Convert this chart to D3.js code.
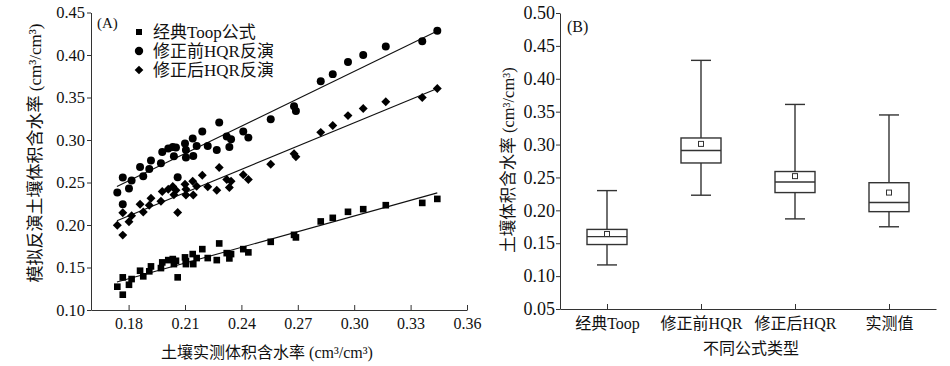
<!DOCTYPE html>
<html>
<head>
<meta charset="utf-8">
<script src="https://cdn.jsdelivr.net/npm/d3@7"></script>
<style>
  html, body { margin: 0; padding: 0; background: #fff; }
  svg { display: block; }
  text { font-family: "Liberation Serif", "Times New Roman", "Noto Sans CJK SC", serif; fill: #111; }
  .axis path, .axis line { stroke: #333; stroke-width: 1; }
  .axis text { font-family: "Liberation Serif", "Times New Roman", "Noto Sans CJK SC", serif; fill: #111; }
</style>
</head>
<body>
<div id="chart"></div>
<script>
// Panel A: measured soil water content (shared x) and three simulated series
const measuredX = [0.1740, 0.1769, 0.1769, 0.1802, 0.1816, 0.1861, 0.1878, 0.1910, 0.1919, 0.1972,
  0.1979, 0.2011, 0.2035, 0.2052, 0.2041, 0.2061, 0.2100, 0.2105, 0.2105, 0.2141,
  0.2144, 0.2162, 0.2192, 0.2221, 0.2269, 0.2282, 0.2322, 0.2345, 0.2336, 0.2410,
  0.2437, 0.2556, 0.2680, 0.2690, 0.2822, 0.2886, 0.2967, 0.3048, 0.3168, 0.3362, 0.3442];

const toopY = [0.1274, 0.1180, 0.1384, 0.1297, 0.1364, 0.1462, 0.1396, 0.1455, 0.1513, 0.1493,
  0.1560, 0.1587, 0.1599, 0.1579, 0.1540, 0.1384, 0.1619, 0.1540, 0.1575, 0.1658,
  0.1540, 0.1611, 0.1716, 0.1611, 0.1587, 0.1783, 0.1669, 0.1658, 0.1607, 0.1716,
  0.1678, 0.1802, 0.1884, 0.1854, 0.2042, 0.2084, 0.2155, 0.2186, 0.2233, 0.2260, 0.2307];

const hqrBeforeY = [0.2382, 0.2245, 0.2559, 0.2429, 0.2523, 0.2682, 0.2574, 0.2660, 0.2758, 0.2727,
  0.2859, 0.2899, 0.2918, 0.2911, 0.2809, 0.2562, 0.2958, 0.2883, 0.2793, 0.3017,
  0.2812, 0.2930, 0.3099, 0.2930, 0.2883, 0.3205, 0.3040, 0.3008, 0.2918, 0.3099,
  0.3028, 0.3243, 0.3396, 0.3341, 0.3690, 0.3775, 0.3917, 0.3999, 0.4100, 0.4163, 0.4285];

const hqrAfterY = [0.1998, 0.1881, 0.2143, 0.2039, 0.2108, 0.2245, 0.2153, 0.2233, 0.2315, 0.2280,
  0.2395, 0.2421, 0.2453, 0.2409, 0.2357, 0.2148, 0.2480, 0.2353, 0.2421, 0.2515,
  0.2354, 0.2456, 0.2586, 0.2450, 0.2409, 0.2676, 0.2535, 0.2515, 0.2441, 0.2591,
  0.2535, 0.2715, 0.2838, 0.2803, 0.3090, 0.3170, 0.3287, 0.3370, 0.3450, 0.3500, 0.3607];

const seriesNames = ['经典Toop公式', '修正前HQR反演', '修正后HQR反演'];

// linear fits
const fitSlope = [0.615, 1.073, 0.913];
const fitIntercept = [0.0261, 0.0588, 0.0463];
const fitRange = [0.1738, 0.3442];

const xTicksA = [0.18, 0.21, 0.24, 0.27, 0.30, 0.33, 0.36];
const yTicksA = [0.10, 0.15, 0.20, 0.25, 0.30, 0.35, 0.40, 0.45];

// Panel B: box plot statistics
const categories = ['经典Toop', '修正前HQR', '修正后HQR', '实测值'];
const whiskerLow = [0.117, 0.223, 0.187, 0.175];
const q1 = [0.148, 0.272, 0.227, 0.198];
const median = [0.160, 0.291, 0.243, 0.212];
const q3 = [0.171, 0.310, 0.259, 0.242];
const whiskerHigh = [0.230, 0.428, 0.361, 0.345];
const meanVal = [0.164, 0.301, 0.252, 0.227];

const yTicksB = [0.05, 0.10, 0.15, 0.20, 0.25, 0.30, 0.35, 0.40, 0.45, 0.50];

const W = 950, H = 366;

const svg = d3.select('#chart').append('svg')
  .attr('width', W)
  .attr('height', H);

svg.append('rect').attr('width', W).attr('height', H).attr('fill', '#fff');

const fmt2 = d3.format('.2f');

/**
 * Panel A - scatter with fit lines
 */
function drawPanelA() {
  const x = d3.scaleLinear().domain([0.16, 0.36]).range([91, 467]);
  const y = d3.scaleLinear().domain([0.10, 0.45]).range([310, 12.5]);

  svg.append('g')
    .attr('class', 'axis')
    .attr('transform', `translate(0,${y(0.10)})`)
    .call(d3.axisBottom(x).tickValues(xTicksA).tickFormat(fmt2)
      .tickSizeInner(-5).tickSizeOuter(0).tickPadding(8))
    .selectAll('text').style('font-size', '16px');

  svg.append('g')
    .attr('class', 'axis')
    .attr('transform', `translate(${x(0.16)},0)`)
    .call(d3.axisLeft(y).tickValues(yTicksA).tickFormat(fmt2)
      .tickSizeInner(4).tickSizeOuter(0).tickPadding(2))
    .selectAll('text').style('font-size', '16.5px');

  const symbols = [
    d3.symbol().type(d3.symbolSquare).size(44),
    d3.symbol().type(d3.symbolCircle).size(50),
    d3.symbol().type(d3.symbolSquare).size(40)
  ];
  const rotate = [0, 0, 45];
  const seriesY = [toopY, hqrBeforeY, hqrAfterY];

  // fit lines
  const line = d3.line().x(d => x(d[0])).y(d => y(d[1]));
  seriesY.forEach((ys, i) => {
    const pts = fitRange.map(v => [v, fitIntercept[i] + fitSlope[i] * v]);
    svg.append('path')
      .attr('d', line(pts))
      .attr('fill', 'none')
      .attr('stroke', '#111')
      .attr('stroke-width', 1.1);
  });

  // points
  seriesY.forEach((ys, i) => {
    svg.append('g').selectAll('path')
      .data(measuredX.map((v, k) => [v, ys[k]]))
      .join('path')
      .attr('d', symbols[i])
      .attr('transform', d => `translate(${x(d[0])},${y(d[1])}) rotate(${rotate[i]})`)
      .attr('fill', '#000');
  });

  svg.append('text')
    .attr('x', 97).attr('y', 23)
    .attr('dy', '0.35em')
    .style('font-size', '15px')
    .text('(A)');

  // legend
  const legend = svg.append('g');
  const legendSymbols = [
    d3.symbol().type(d3.symbolSquare).size(36),
    d3.symbol().type(d3.symbolCircle).size(55),
    d3.symbol().type(d3.symbolSquare).size(38)
  ];
  seriesNames.forEach((name, i) => {
    const ly = 32 + i * 19;
    legend.append('path')
      .attr('d', legendSymbols[i])
      .attr('transform', `translate(139,${ly}) rotate(${rotate[i]})`)
      .attr('fill', '#000');
    legend.append('text')
      .attr('x', 153).attr('y', ly)
      .attr('dy', '0.35em')
      .style('font-size', '17px')
      .text(name);
  });

  svg.append('text')
    .attr('x', 267).attr('y', 352)
    .attr('text-anchor', 'middle')
    .attr('dy', '0.35em')
    .style('font-size', '16px')
    .text('土壤实测体积含水率 (cm³/cm³)');

  svg.append('text')
    .attr('transform', 'translate(35,153) rotate(-90)')
    .attr('text-anchor', 'middle')
    .attr('dy', '0.35em')
    .style('font-size', '17px')
    .text('模拟反演土壤体积含水率 (cm³/cm³)');
}

/**
 * Panel B - box plots
 */
function drawPanelB() {
  const x = d3.scalePoint().domain(categories).range([560, 936]).padding(0.5);
  const y = d3.scaleLinear().domain([0.05, 0.50]).range([309, 13]);
  const boxW = 40, capW = 20;

  svg.append('g')
    .attr('class', 'axis')
    .attr('transform', `translate(0,${y(0.05)})`)
    .call(d3.axisBottom(x).tickSizeInner(-5).tickSizeOuter(0).tickPadding(9))
    .selectAll('text')
    .style('font-size', '16px');

  svg.append('g')
    .attr('class', 'axis')
    .attr('transform', 'translate(560,0)')
    .call(d3.axisLeft(y).tickValues(yTicksB).tickFormat(fmt2)
      .tickSizeInner(4).tickSizeOuter(0).tickPadding(1))
    .selectAll('text').style('font-size', '18px');

  const boxes = svg.append('g')
    .selectAll('g')
    .data(categories.map((c, i) => ({
      c, lo: whiskerLow[i], q1: q1[i], med: median[i], q3: q3[i], hi: whiskerHigh[i], mean: meanVal[i]
    })))
    .join('g')
    .attr('transform', d => `translate(${x(d.c)},0)`)
    .attr('stroke', '#333')
    .attr('stroke-width', 1.4)
    .attr('fill', 'none');

  boxes.append('line')
    .attr('y1', d => y(d.hi)).attr('y2', d => y(d.q3));
  boxes.append('line')
    .attr('y1', d => y(d.q1)).attr('y2', d => y(d.lo));
  boxes.append('line')
    .attr('x1', -capW / 2).attr('x2', capW / 2)
    .attr('y1', d => y(d.hi)).attr('y2', d => y(d.hi));
  boxes.append('line')
    .attr('x1', -capW / 2).attr('x2', capW / 2)
    .attr('y1', d => y(d.lo)).attr('y2', d => y(d.lo));
  boxes.append('rect')
    .attr('x', -boxW / 2).attr('width', boxW)
    .attr('y', d => y(d.q3))
    .attr('height', d => y(d.q1) - y(d.q3))
    .attr('fill', '#fff');
  boxes.append('line')
    .attr('x1', -boxW / 2).attr('x2', boxW / 2)
    .attr('y1', d => y(d.med)).attr('y2', d => y(d.med));
  boxes.append('rect')
    .attr('x', -2.5).attr('width', 5)
    .attr('y', d => y(d.mean) - 2.5).attr('height', 5)
    .attr('stroke-width', 1);

  svg.append('text')
    .attr('x', 567).attr('y', 26)
    .attr('dy', '0.35em')
    .style('font-size', '16px')
    .text('(B)');

  svg.append('text')
    .attr('x', 751).attr('y', 348)
    .attr('text-anchor', 'middle')
    .attr('dy', '0.35em')
    .style('font-size', '16px')
    .text('不同公式类型');

  svg.append('text')
    .attr('transform', 'translate(508,160) rotate(-90)')
    .attr('text-anchor', 'middle')
    .attr('dy', '0.35em')
    .style('font-size', '16.5px')
    .text('土壤体积含水率 (cm³/cm³)');
}

drawPanelA();
drawPanelB();
</script>
</body>
</html>
